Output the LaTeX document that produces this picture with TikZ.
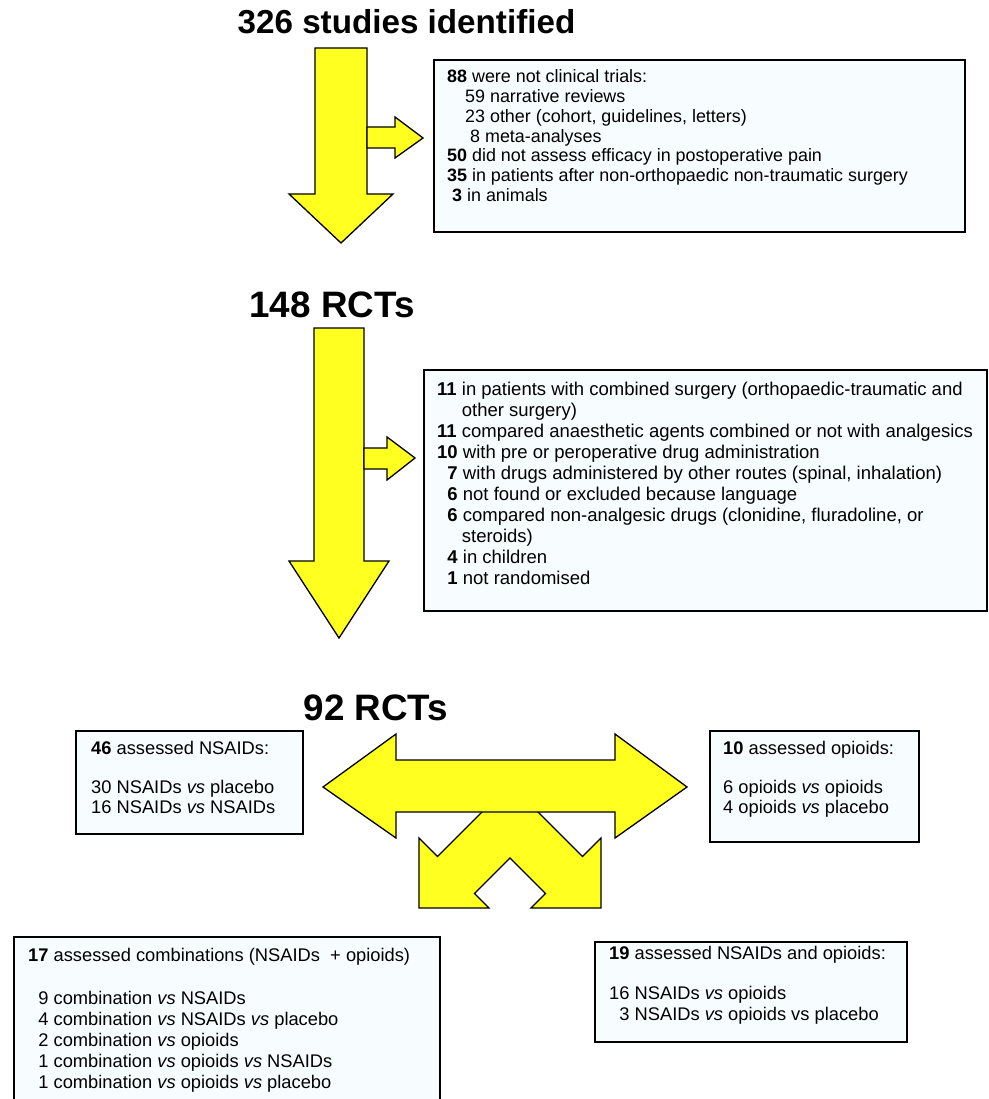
\documentclass[tikz,border=0pt]{standalone}
\usepackage{fontspec}
\setmainfont{Liberation Sans}
\definecolor{arrowyellow}{RGB}{255,255,32}
\definecolor{boxfill}{RGB}{247,252,255}
\tikzset{
  infobox/.style={draw=black, line width=1.6pt, fill=boxfill, inner sep=0pt, anchor=north west},
  boxtext/.style={inner sep=0pt, anchor=north west, align=left, font=\fontsize{18.3}{21}\selectfont},
  smalltext/.style={boxtext, font=\fontsize{18.3}{20}\selectfont},
  blockarrow/.style={draw=black, line width=1.3pt, fill=arrowyellow, line join=miter},
  titletext/.style={inner sep=0pt, anchor=base, font=\bfseries\fontsize{36.8}{40}\selectfont}
}
\begin{document}
\begin{tikzpicture}[x=1pt, y=-1pt]
\useasboundingbox (0,0) rectangle (988,1099);

% ---------- titles ----------
\node[titletext, font=\bfseries\fontsize{33.2}{36}\selectfont] (t326) at (406.5,33.8) {326 studies identified};
\node[titletext] (t148) at (332,317) {148 RCTs};
\node[titletext] (t92) at (376,720) {92 RCTs};

% ---------- first stage ----------
\draw[blockarrow] (315,48) -- (367,48) -- (367,194) -- (393,194) -- (341,243) -- (289,194) -- (315,194) -- cycle;
\draw[blockarrow] (367,127) -- (395,127) -- (395,117) -- (423,138) -- (395,158) -- (395,148) -- (367,148) -- cycle;

\node[infobox, minimum width=531pt, minimum height=172pt] (box1) at (433,59) {};
\node[boxtext, font=\fontsize{17.9}{19.7}\selectfont] (txt1) at (447,69.8) {%
\textbf{88} were not clinical trials:\\
\hspace*{18pt}59 narrative reviews\\
\hspace*{18pt}23 other (cohort, guidelines, letters)\\
\hspace*{23pt}8 meta-analyses\\
\textbf{50} did not assess efficacy in postoperative pain\\
\textbf{35} in patients after non-orthopaedic non-traumatic surgery\\
\hspace*{5pt}\textbf{3} in animals};

% ---------- second stage ----------
\draw[blockarrow] (314,328) -- (364,328) -- (364,561) -- (389,561) -- (339,638) -- (289,561) -- (314,561) -- cycle;
\draw[blockarrow] (364,448) -- (387,448) -- (387,437) -- (415,458) -- (387,480) -- (387,469) -- (364,469) -- cycle;

\node[infobox, minimum width=563pt, minimum height=241pt] (box2) at (423,369) {};
\node[boxtext, font=\fontsize{18.5}{21}\selectfont] (txt2) at (437,381.5) {%
\textbf{11} in patients with combined surgery (orthopaedic-traumatic and\\
\phantom{\textbf{11}} other surgery)\\
\textbf{11} compared anaesthetic agents combined or not with analgesics\\
\textbf{10} with pre or peroperative drug administration\\
\phantom{\textbf{1}}\textbf{7} with drugs administered by other routes (spinal, inhalation)\\
\phantom{\textbf{1}}\textbf{6} not found or excluded because language\\
\phantom{\textbf{1}}\textbf{6} compared non-analgesic drugs (clonidine, fluradoline, or\\
\phantom{\textbf{11}} steroids)\\
\phantom{\textbf{1}}\textbf{4} in children\\
\phantom{\textbf{1}}\textbf{1} not randomised};

% ---------- third stage: split arrows ----------
\draw[blockarrow] (510,784) -- (437.5,856.5) -- (419,838) -- (419,908) -- (489,908) -- (474.5,893.5)
  -- (510,858) -- (545.5,893.5) -- (531,908) -- (601,908) -- (601,838) -- (582.5,856.5) -- cycle;
\draw[blockarrow] (323,787) -- (396,734) -- (396,760) -- (615,760) -- (615,734) -- (687,787)
  -- (615,838) -- (615,812) -- (396,812) -- (396,838) -- cycle;

\node[infobox, minimum width=227pt, minimum height=103pt] (box3) at (75,730) {};
\node[smalltext] (txt3) at (91,741) {%
\textbf{46} assessed NSAIDs:\\[19pt]
30 NSAIDs \textit{vs} placebo\\
16 NSAIDs \textit{vs} NSAIDs};

\node[infobox, minimum width=209pt, minimum height=111pt] (box4) at (709,730) {};
\node[smalltext] (txt4) at (723,741) {%
\textbf{10} assessed opioids:\\[19pt]
6 opioids \textit{vs} opioids\\
4 opioids \textit{vs} placebo};

\node[infobox, minimum width=426pt, minimum height=170pt] (box5) at (13,936) {};
\node[boxtext] (txt5) at (28,948.5) {%
\textbf{17} assessed combinations (NSAIDs\ \ + opioids)\\[22pt]
\phantom{1}9 combination \textit{vs} NSAIDs\\
\phantom{1}4 combination \textit{vs} NSAIDs \textit{vs} placebo\\
\phantom{1}2 combination \textit{vs} opioids\\
\phantom{1}1 combination \textit{vs} opioids \textit{vs} NSAIDs\\
\phantom{1}1 combination \textit{vs} opioids \textit{vs} placebo};

\node[infobox, minimum width=312pt, minimum height=100pt] (box6) at (594,941) {};
\node[boxtext] (txt6) at (609,946.5) {%
\textbf{19} assessed NSAIDs and opioids:\\[19pt]
16 NSAIDs \textit{vs} opioids\\
\phantom{1}3 NSAIDs \textit{vs} opioids vs placebo};
\end{tikzpicture}
\end{document}
